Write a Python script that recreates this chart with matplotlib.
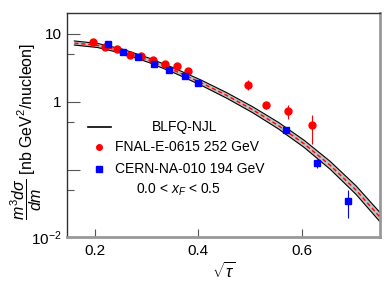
import numpy as np
import matplotlib.pyplot as plt
from matplotlib.ticker import FixedLocator, NullFormatter

plt.rcParams['font.family'] = ['Liberation Sans', 'DejaVu Sans']
plt.rcParams['mathtext.fontset'] = 'custom'
plt.rcParams['mathtext.rm'] = 'Liberation Sans'
plt.rcParams['mathtext.it'] = 'Liberation Sans:italic'

# BLFQ-NJL band
tau_curve = [0.160, 0.205, 0.255, 0.305, 0.355, 0.405, 0.455, 0.505, 0.555, 0.605, 0.655, 0.705, 0.751]
y_curve = [7.35, 6.76, 5.50, 4.07, 2.85, 1.917, 1.237, 0.763, 0.444, 0.2384, 0.1155, 0.0498, 0.0200]
y_lo = [6.86, 6.31, 5.12, 3.77, 2.63, 1.756, 1.126, 0.690, 0.397, 0.211, 0.101, 0.0431, 0.0171]
y_hi = [7.88, 7.24, 5.91, 4.39, 3.09, 2.092, 1.359, 0.844, 0.496, 0.269, 0.132, 0.0576, 0.0234]

# FNAL-E-0615 252 GeV
tau_fnal = [0.196, 0.219, 0.243, 0.267, 0.289, 0.312, 0.335, 0.358, 0.380, 0.496, 0.530, 0.574, 0.620]
y_fnal = [7.62, 6.43, 6.0, 4.94, 4.67, 4.07, 3.56, 3.32, 2.84, 1.78, 0.882, 0.728, 0.447]
err_fnal_lo = [0, 0, 0, 0, 0, 0, 0, 0, 0, 0.28, 0.10, 0.173, 0.207]
err_fnal_hi = [0, 0, 0, 0, 0, 0, 0, 0, 0, 0.33, 0.11, 0.175, 0.196]

# CERN-NA-010 194 GeV
tau_cern = [0.225, 0.254, 0.284, 0.314, 0.344, 0.374, 0.400, 0.570, 0.629, 0.689]
y_cern = [7.19, 5.42, 4.51, 3.61, 2.97, 2.36, 1.89, 0.386, 0.124, 0.0348]
err_cern_lo = [0, 0, 0, 0, 0, 0, 0, 0.03, 0.019, 0.0157]
err_cern_hi = [0, 0, 0, 0, 0, 0, 0, 0.03, 0.019, 0.0152]

fig = plt.figure(figsize=(3.9, 2.81), dpi=100)
ax = fig.add_axes([0.172, 0.155, 0.802, 0.799])

ax.fill_between(tau_curve, y_lo, y_hi, color='#c0c0c0', lw=0, zorder=1)
ax.plot(tau_curve, y_lo, color='black', lw=0.8, zorder=2)
ax.plot(tau_curve, y_hi, color='black', lw=0.8, zorder=2)
ax.plot(tau_curve, y_curve, color='red', lw=1.0, ls=(0, (3, 2)), zorder=3)

ax.errorbar(tau_fnal, y_fnal, yerr=[err_fnal_lo, err_fnal_hi], fmt='o', color='red',
            ms=5, elinewidth=0.8, capsize=0, zorder=4)
ax.errorbar(tau_cern, y_cern, yerr=[err_cern_lo, err_cern_hi], fmt='s', color='blue',
            ms=5, elinewidth=0.8, capsize=0, zorder=4)

ax.set_yscale('log')
ax.set_xlim(0.146, 0.751)
ax.set_ylim(0.01, 20.4)

ax.yaxis.set_major_locator(FixedLocator([0.01, 0.1, 1, 10]))
ax.set_yticklabels(['$10^{-2}$', '', '1', '10'])
ax.yaxis.set_minor_locator(FixedLocator([0.05, 0.5, 5]))
ax.yaxis.set_minor_formatter(NullFormatter())
ax.set_xticks([0.2, 0.4, 0.6])
ax.set_xticklabels(['0.2', '0.4', '0.6'])

ax.tick_params(which='both', direction='in', color='#555555', labelsize=11, width=0.8)
ax.tick_params(axis='y', which='major', length=9, pad=4)
ax.tick_params(axis='y', which='minor', length=5)
ax.tick_params(axis='x', which='major', length=6, pad=5)

for s in ['left', 'top']:
    ax.spines[s].set_color('#333333')
    ax.spines[s].set_linewidth(1.0)
for s in ['right', 'bottom']:
    ax.spines[s].set_color('#999999')
    ax.spines[s].set_linewidth(2.0)

ax.set_xlabel(r'$\sqrt{\tau}$', fontsize=12, labelpad=2)
ax.set_ylabel(r'$\dfrac{m^3 d\sigma}{dm}$ [nb GeV$^2$/nucleon]', fontsize=11.5)
ax.yaxis.set_label_coords(-0.075, 0.47)

# legend
ax.plot([0.067, 0.141], [0.492, 0.492], color='black', lw=1.2, transform=ax.transAxes)
ax.text(0.272, 0.492, 'BLFQ-NJL', fontsize=10, va='center', transform=ax.transAxes)
ax.plot([0.102], [0.403], 'o', color='red', ms=4, transform=ax.transAxes)
ax.text(0.153, 0.403, 'FNAL-E-0615 252 GeV', fontsize=10, va='center', transform=ax.transAxes)
ax.plot([0.102], [0.305], 's', color='blue', ms=4, transform=ax.transAxes)
ax.text(0.153, 0.305, 'CERN-NA-010 194 GeV', fontsize=10, va='center', transform=ax.transAxes)
ax.text(0.220, 0.212, r'0.0 < $x_F$ < 0.5', fontsize=10, va='center', transform=ax.transAxes)

fig.savefig('out.png', dpi=100)
